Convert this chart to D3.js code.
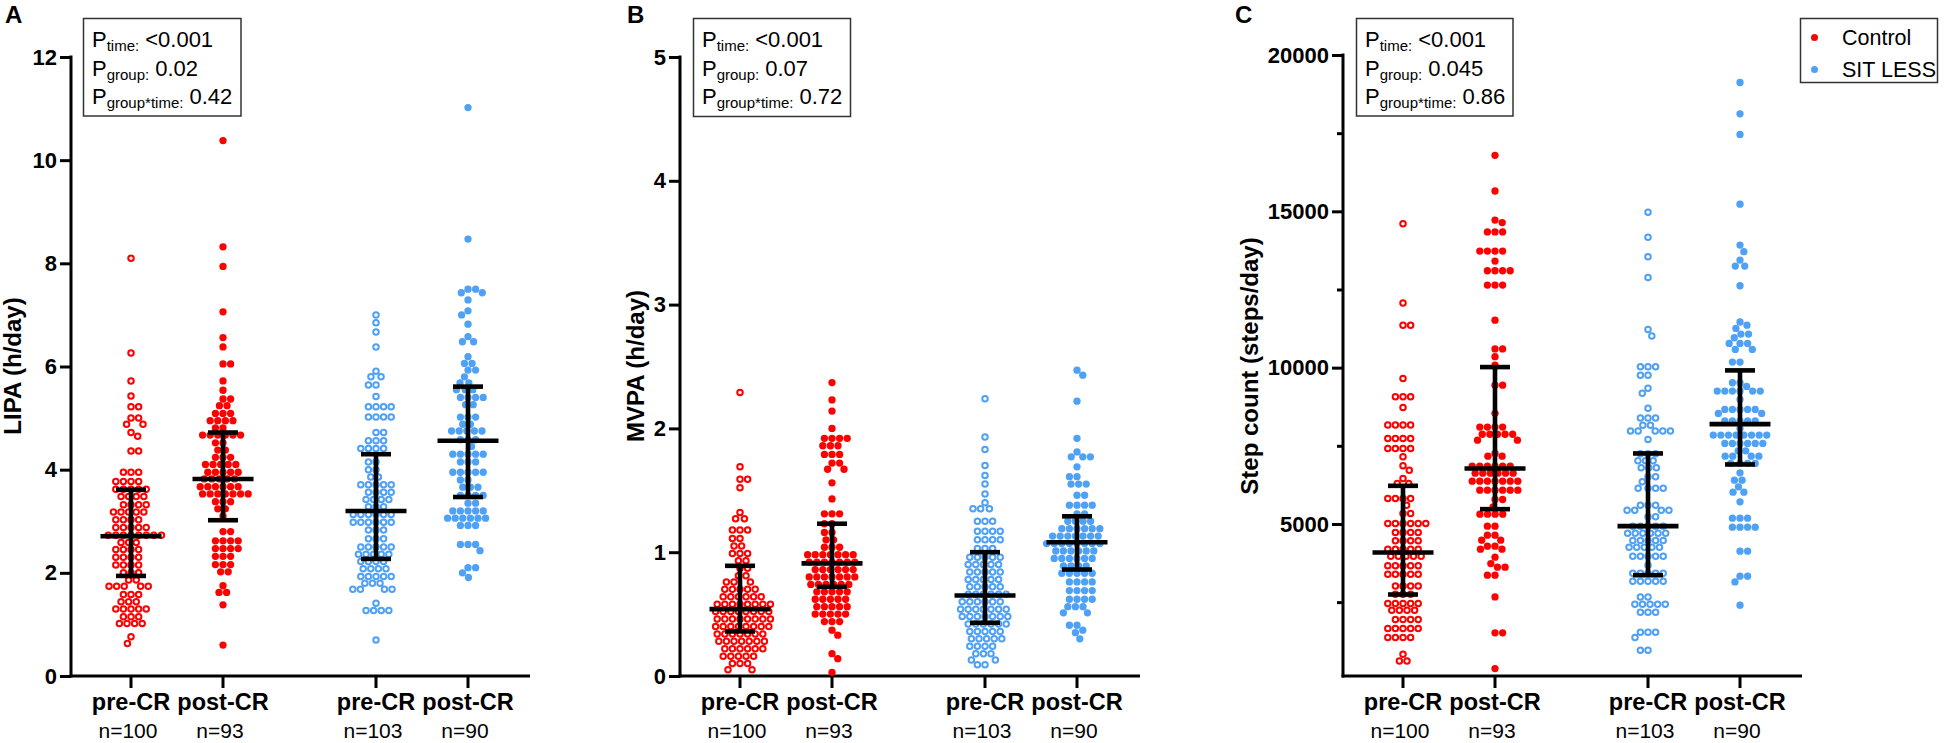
<!DOCTYPE html>
<html><head><meta charset="utf-8">
<script src="https://cdn.jsdelivr.net/npm/d3@7/dist/d3.min.js"></script>
<style>
body{margin:0;background:#fff}
svg{display:block}
text{font-family:"Liberation Sans",Arial,Helvetica,sans-serif;fill:#000}
</style>
</head><body>
<svg id="chart" width="1944" height="743"></svg>
<script>
// ---------------- DATA ----------------
const categories = ["pre-CR", "post-CR", "pre-CR", "post-CR"];
const groupKeys = ["Control pre-CR", "Control post-CR", "SIT LESS pre-CR", "SIT LESS post-CR"];
const groupNames = ["Control", "Control", "SIT LESS", "SIT LESS"];
const nLabels = ["n=100", "n=93", "n=103", "n=90"];
const legendLabels = ["Control", "SIT LESS"];

// [value, how many points were read at that value]
function rows(spec){ const out=[]; spec.forEach(([v,c])=>{for(let i=0;i<c;i++)out.push(v);}); return out; }

// Panel A: LIPA (h/day)
const lipaControlPre = rows([[8.10,1],[6.26,1],[5.72,1],[5.43,1],[5.22,2],[5.00,2],[4.88,2],[4.72,1],[4.65,1],[4.36,2],[3.95,3],[3.77,4],[3.62,5],[3.48,4],[3.32,4],[3.18,5],[3.03,4],[2.88,5],[2.73,8],[2.59,3],[2.45,4],[2.30,4],[2.15,4],[2.00,3],[1.86,2],[1.74,5],[1.58,3],[1.44,3],[1.30,5],[1.15,3],[1.02,4],[0.76,1],[0.63,1]]);
const lipaControlPost = rows([[10.38,1],[8.32,1],[7.94,1],[7.06,1],[6.56,1],[6.38,1],[6.05,2],[5.72,1],[5.54,1],[5.37,2],[5.24,2],[5.09,3],[4.95,4],[4.81,2],[4.67,6],[4.52,2],[4.38,2],[4.24,3],[4.10,5],[3.95,5],[3.82,5],[3.67,6],[3.53,7],[3.38,3],[3.24,2],[3.10,1],[2.80,2],[2.62,4],[2.47,4],[2.32,3],[2.16,3],[2.02,2],[1.75,1],[1.62,2],[1.38,1],[0.60,1]]);
const lipaSitPre = rows([[7.00,1],[6.85,1],[6.67,1],[6.38,1],[5.91,1],[5.80,2],[5.64,2],[5.42,1],[5.22,4],[5.02,4],[4.72,2],[4.56,3],[4.41,4],[4.15,2],[4.00,2],[3.86,2],[3.71,5],[3.56,4],[3.42,4],[3.28,3],[3.13,6],[2.98,6],[2.83,3],[2.66,3],[2.50,5],[2.36,5],[2.22,4],[2.08,4],[1.93,5],[1.80,3],[1.68,4],[1.41,1],[1.27,4],[0.70,1]]);
const lipaSitPost = rows([[11.02,1],[8.47,1],[7.50,2],[7.43,2],[7.29,1],[7.08,1],[7.00,1],[6.82,1],[6.58,1],[6.48,2],[6.19,1],[6.06,2],[5.93,2],[5.80,1],[5.68,2],[5.55,3],[5.40,4],[5.26,2],[5.02,3],[4.88,2],[4.75,5],[4.58,3],[4.45,1],[4.30,5],[4.15,3],[3.95,5],[3.80,2],[3.66,3],[3.50,4],[3.35,2],[3.20,5],[3.06,6],[2.92,3],[2.55,3],[2.43,1],[2.10,2],[2.00,1],[1.91,1]]);
const lipaMedian = [2.71, 3.82, 3.20, 4.56];
const lipaQ1 = [1.94, 3.02, 2.27, 3.47];
const lipaQ3 = [3.61, 4.72, 4.30, 5.61];

// Panel B: MVPA (h/day)
const mvpaControlPre = rows([[2.29,1],[1.69,1],[1.59,2],[1.52,1],[1.32,1],[1.27,2],[1.18,3],[1.11,2],[1.05,2],[0.99,3],[0.93,2],[0.87,2],[0.81,2],[0.76,3],[0.70,5],[0.64,6],[0.58,8],[0.52,8],[0.46,8],[0.40,8],[0.34,7],[0.28,7],[0.22,6],[0.16,5],[0.10,3],[0.05,2]]);
const mvpaControlPost = rows([[2.37,1],[2.23,1],[2.14,1],[2.00,1],[1.92,4],[1.86,3],[1.79,3],[1.72,2],[1.67,2],[1.56,1],[1.43,1],[1.31,3],[1.23,2],[1.16,2],[1.10,2],[1.04,3],[0.98,7],[0.92,7],[0.86,6],[0.80,7],[0.74,6],[0.68,5],[0.62,5],[0.56,5],[0.50,5],[0.44,3],[0.37,1],[0.33,1],[0.18,1],[0.14,1],[0.03,1]]);
const mvpaSitPre = rows([[2.24,1],[1.93,1],[1.83,1],[1.70,1],[1.62,1],[1.55,1],[1.47,1],[1.40,1],[1.35,3],[1.25,3],[1.17,4],[1.10,4],[1.03,3],[0.96,5],[0.90,5],[0.84,5],[0.78,5],[0.72,5],[0.66,6],[0.60,6],[0.54,7],[0.48,7],[0.42,6],[0.36,5],[0.30,5],[0.24,4],[0.18,3],[0.13,2],[0.09,2]]);
const mvpaSitPost = rows([[2.47,1],[2.43,1],[2.22,1],[1.92,1],[1.81,1],[1.77,3],[1.69,1],[1.61,2],[1.55,3],[1.46,2],[1.38,4],[1.31,2],[1.25,4],[1.19,6],[1.13,7],[1.07,8],[1.01,6],[0.95,6],[0.89,4],[0.83,5],[0.76,4],[0.69,4],[0.62,4],[0.56,3],[0.51,2],[0.41,2],[0.37,1],[0.35,1],[0.30,1]]);
const mvpaMedian = [0.54, 0.91, 0.65, 1.08];
const mvpaQ1 = [0.36, 0.72, 0.43, 0.86];
const mvpaQ3 = [0.89, 1.23, 1.00, 1.29];

// Panel C: Step count (steps/day)
const stepsControlPre = rows([[14600,1],[12070,1],[11360,2],[9656,1],[9068,3],[8728,1],[8162,4],[7736,4],[7416,4],[7148,1],[6860,1],[6722,1],[6456,1],[6296,2],[5816,4],[5602,1],[5336,2],[5016,6],[4728,4],[4460,4],[4194,5],[3970,5],[3660,5],[3394,5],[3020,4],[2754,3],[2456,5],[2242,4],[1944,4],[1656,5],[1368,4],[834,1],[620,2]]);
const stepsControlPost = rows([[16790,1],[15650,1],[14720,1],[14640,1],[14340,3],[13730,4],[13410,1],[13100,4],[12640,3],[11520,1],[10600,2],[10350,1],[10080,1],[9440,2],[8540,1],[8100,4],[7870,5],[7680,2],[7256,1],[7170,2],[6850,6],[6626,6],[6370,7],[6082,6],[5783,2],[5548,1],[5314,4],[4930,2],[4642,2],[4482,2],[4290,2],[4194,2],[3938,1],[3735,1],[3618,2],[3362,2],[2668,1],[1517,2],[376,1]]);
const stepsSitPre = rows([[14970,1],[14170,1],[13550,1],[12880,1],[11220,1],[11010,1],[10030,3],[9760,2],[9340,1],[9180,1],[8700,1],[8390,3],[8160,2],[7970,5],[7700,1],[7250,3],[7020,3],[6800,3],[6510,2],[6350,1],[6146,4],[5602,3],[5442,4],[5228,2],[4930,5],[4700,6],[4470,5],[4258,5],[3970,5],[3682,1],[3426,5],[3170,5],[2668,2],[2434,5],[2178,3],[1538,3],[1368,1],[962,2]]);
const stepsSitPost = rows([[19120,1],[18120,1],[17460,1],[15230,1],[13920,1],[13710,1],[13440,1],[13250,2],[12620,1],[11460,1],[11360,1],[11256,1],[11074,2],[10956,1],[10775,3],[10584,2],[10178,2],[9517,2],[9400,1],[9250,6],[8984,1],[8664,5],[8536,2],[8300,5],[8050,1],[7842,8],[7576,6],[7340,2],[7170,4],[6936,4],[6636,1],[6402,2],[6188,1],[6018,2],[5708,1],[5186,3],[4898,4],[4130,2],[3330,2],[3148,1],[2402,1]]);
const stepsMedian = [4088, 6776, 4930, 8194];
const stepsQ1 = [2744, 5474, 3362, 6904];
const stepsQ3 = [6220, 10018, 7256, 9912];

const pLabelsA = [["time:", "<0.001"], ["group:", "0.02"], ["group*time:", "0.42"]];
const pLabelsB = [["time:", "<0.001"], ["group:", "0.07"], ["group*time:", "0.72"]];
const pLabelsC = [["time:", "<0.001"], ["group:", "0.045"], ["group*time:", "0.86"]];

// ---------------- LAYOUT ----------------
const RED = "#FF0000", BLUE = "#4FA1F6";
const colorOf = d3.scaleOrdinal().domain(legendLabels).range([RED, BLUE]);
const FONT = '"Liberation Sans",Arial,Helvetica,sans-serif';
const axisY = 676;
const catOffsets = [60, 152, 305, 397];

const panels = [
  {letter:"A", letterX:5, axisX:71, xEnd:530, domain:[0,12], range:[676,57], ticks:[0,2,4,6,8,10,12], minor:[],
   title:"LIPA (h/day)", titleX:21, pbox:[83.5,18.5,157.5,97.5], plabels:pLabelsA,
   groups:[lipaControlPre, lipaControlPost, lipaSitPre, lipaSitPost], med:lipaMedian, q1:lipaQ1, q3:lipaQ3},
  {letter:"B", letterX:627, axisX:680, xEnd:1140, domain:[0,5], range:[676,57], ticks:[0,1,2,3,4,5], minor:[],
   title:"MVPA (h/day)", titleX:644, pbox:[693.5,18.5,157,98], plabels:pLabelsB,
   groups:[mvpaControlPre, mvpaControlPost, mvpaSitPre, mvpaSitPost], med:mvpaMedian, q1:mvpaQ1, q3:mvpaQ3},
  {letter:"C", letterX:1235, axisX:1343, xEnd:1802, domain:[0,20000], range:[680.3,55], ticks:[5000,10000,15000,20000], minor:[2500,7500,12500,17500],
   title:"Step count (steps/day)", titleX:1258, pbox:[1356.5,18.5,156.5,97.5], plabels:pLabelsC,
   groups:[stepsControlPre, stepsControlPost, stepsSitPre, stepsSitPost], med:stepsMedian, q1:stepsQ1, q3:stepsQ3}
];

// beeswarm: place each point as close to the centre line as possible without overlap
function swarm(vals, y, d){
  const pts = vals.map(v => ({v, y: y(v), x: 0})).sort((a,b) => a.y - b.y);
  const placed = [];
  let flip = 1;
  for (const p of pts){
    const near = placed.filter(q => Math.abs(q.y - p.y) < d);
    const cands = [0];
    for (const q of near){
      const dx = Math.sqrt(Math.max(0, d*d - (q.y - p.y)**2));
      cands.push(q.x + dx, q.x - dx);
    }
    cands.sort((a,b) => (Math.abs(a) - Math.abs(b)) || (flip * (a - b)));
    for (const c of cands){
      if (near.every(q => (q.x - c)**2 + (q.y - p.y)**2 >= d*d - 0.01)){ p.x = c; break; }
    }
    flip = -flip;
    placed.push(p);
  }
  return placed;
}

const svg = d3.select("#chart");

panels.forEach(P => {
  const g = svg.append("g");
  const y = d3.scaleLinear().domain(P.domain).range(P.range);
  const x = d3.scaleOrdinal().domain(groupKeys).range(catOffsets.map(o => P.axisX + o));
  const topV = P.ticks[P.ticks.length - 1];

  g.append("text").attr("x", P.letterX).attr("y", 22.5).attr("font-size", 24).attr("font-weight", "bold").text(P.letter);

  g.append("text").attr("transform", `translate(${P.titleX},366) rotate(-90)`)
    .attr("text-anchor", "middle").attr("font-size", 24).attr("font-weight", "bold").text(P.title);

  const ax = d3.axisLeft(y).tickValues(P.ticks).tickSize(11).tickPadding(3).tickSizeOuter(0).tickFormat(d3.format("d"));
  const ag = g.append("g").attr("transform", `translate(${P.axisX},0)`).call(ax);
  ag.select(".domain").remove();
  ag.selectAll(".tick line").attr("stroke", "#000").attr("stroke-width", 3);
  ag.selectAll(".tick text").attr("font-size", 22).attr("font-weight", "bold").attr("font-family", FONT).attr("fill", "#000");
  if (P.minor.length){
    const mx = d3.axisLeft(y).tickValues(P.minor).tickSize(6).tickFormat("");
    const mg = g.append("g").attr("transform", `translate(${P.axisX},0)`).call(mx);
    mg.select(".domain").remove();
    mg.selectAll(".tick line").attr("stroke", "#000").attr("stroke-width", 3);
  }
  g.append("line").attr("x1", P.axisX).attr("x2", P.axisX).attr("y1", axisY + 1.5).attr("y2", y(topV) - 1.5)
    .attr("stroke", "#000").attr("stroke-width", 3);

  g.append("line").attr("x1", P.axisX - 1.5).attr("x2", P.xEnd).attr("y1", axisY).attr("y2", axisY)
    .attr("stroke", "#000").attr("stroke-width", 3);
  g.selectAll(".ctick").data(groupKeys).join("line")
    .attr("x1", d => x(d)).attr("x2", d => x(d)).attr("y1", axisY).attr("y2", axisY + 12)
    .attr("stroke", "#000").attr("stroke-width", 3);
  g.selectAll(".clab").data(groupKeys).join("text")
    .attr("x", d => x(d)).attr("y", 709.5).attr("text-anchor", "middle")
    .attr("font-size", 23.5).attr("font-weight", "bold").text((d,i) => categories[i]);
  g.selectAll(".nlab").data(groupKeys).join("text")
    .attr("x", (d,i) => x(d) - 3).attr("y", 738).attr("text-anchor", "middle")
    .attr("font-size", 21).text((d,i) => nLabels[i]);

  P.groups.forEach((vals, i) => {
    const key = groupKeys[i];
    const col = colorOf(groupNames[i]);
    const open = categories[i] === "pre-CR";
    const pts = swarm(vals, y, 7.6);
    g.append("g").selectAll("circle").data(pts).join("circle")
      .attr("cx", d => x(key) + d.x).attr("cy", d => d.y)
      .attr("r", open ? 2.75 : 3.65)
      .attr("fill", open ? "#fff" : col)
      .attr("stroke", open ? col : "none")
      .attr("stroke-width", open ? 2 : 0);
  });

  const eb = g.append("g").attr("stroke", "#000").attr("stroke-width", 4.6);
  groupKeys.forEach((key, i) => {
    const cx = x(key);
    eb.append("line").attr("x1", cx).attr("x2", cx).attr("y1", y(P.q1[i])).attr("y2", y(P.q3[i]));
    eb.append("line").attr("x1", cx - 30.5).attr("x2", cx + 30.5).attr("y1", y(P.med[i])).attr("y2", y(P.med[i]));
    eb.append("line").attr("x1", cx - 15).attr("x2", cx + 15).attr("y1", y(P.q1[i])).attr("y2", y(P.q1[i]));
    eb.append("line").attr("x1", cx - 15).attr("x2", cx + 15).attr("y1", y(P.q3[i])).attr("y2", y(P.q3[i]));
  });

  const [bx, by, bw, bh] = P.pbox;
  g.append("rect").attr("x", bx).attr("y", by).attr("width", bw).attr("height", bh)
    .attr("fill", "#fff").attr("stroke", "#333").attr("stroke-width", 1.5);
  const baselines = [46.5, 75.5, 104];
  P.plabels.forEach(([sub, val], j) => {
    const t = g.append("text").attr("x", bx + 8.5).attr("y", baselines[j]).attr("font-size", 22);
    t.append("tspan").text("P");
    t.append("tspan").attr("font-size", 15).attr("dy", 4).text(sub);
    t.append("tspan").attr("dy", -4).attr("dx", 6).text(val);
  });
});

const lg = svg.append("g");
lg.append("rect").attr("x", 1800.5).attr("y", 18.5).attr("width", 137).attr("height", 64)
  .attr("fill", "#fff").attr("stroke", "#333").attr("stroke-width", 1.5);
lg.selectAll("circle").data(legendLabels).join("circle")
  .attr("cx", 1814.5).attr("cy", (d,i) => 37.5 + i * 32).attr("r", 3.5).attr("fill", d => colorOf(d));
lg.selectAll("text").data(legendLabels).join("text")
  .attr("x", 1842).attr("y", (d,i) => 45 + i * 31.5).attr("font-size", 21.5).text(d => d);
</script>
</body></html>
